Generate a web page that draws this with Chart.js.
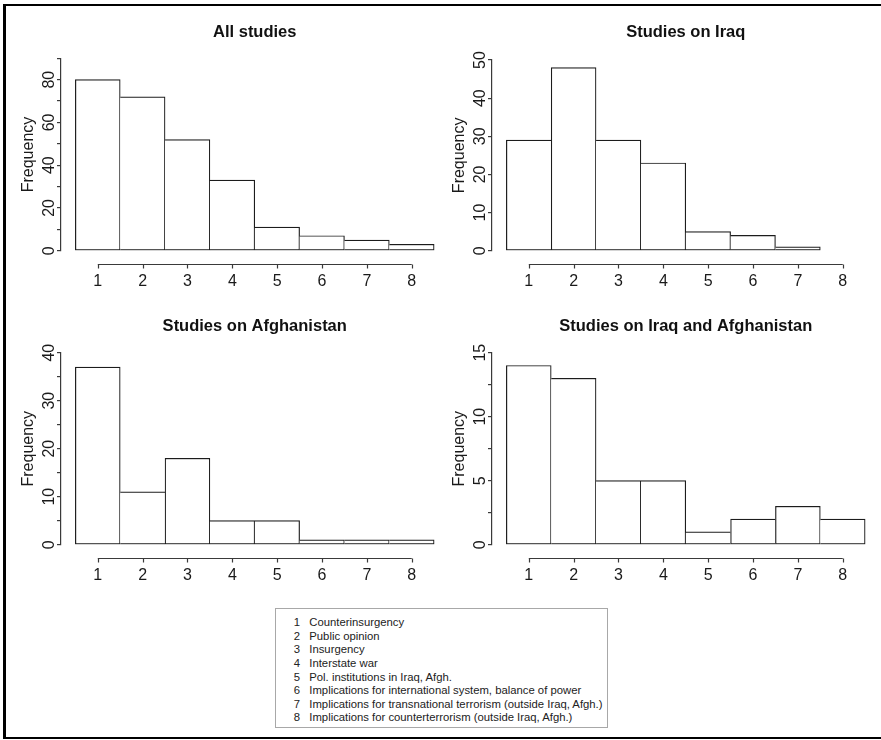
<!DOCTYPE html>
<html>
<head>
<meta charset="utf-8">
<script src="https://cdn.jsdelivr.net/npm/chart.js@4.4.1/dist/chart.umd.min.js"></script>
<style>
  body { margin: 0; background: #fff; width: 881px; height: 740px; overflow: hidden; position: relative; font-family: 'Liberation Sans', Arial, sans-serif; }
  #frame { position: absolute; left: 3px; top: 4px; width: 900px; height: 735px; box-sizing: border-box;
           border-left: 3px solid #000; border-top: 2px solid #000; border-bottom: 2px solid #000; }
  canvas { position: absolute; }
  #legend { position: absolute; left: 275px; top: 608px; width: 333px; height: 120px; box-sizing: border-box;
            border: 1px solid #a8a8a8; padding-top: 6.9px; font-size: 11.3px; line-height: 13.66px; color: #222; }
  #legend .n { display: inline-block; width: 24px; text-align: right; margin-right: 9.3px; }
</style>
</head>
<body>
<div id="frame"></div>
<canvas id="c1" width="450" height="300" style="left:0;top:0"></canvas>
<canvas id="c2" width="450" height="300" style="left:431px;top:0"></canvas>
<canvas id="c3" width="450" height="300" style="left:0;top:294px"></canvas>
<canvas id="c4" width="450" height="300" style="left:431px;top:294px"></canvas>
<div id="legend"></div>
<script>
// categorias (tópicos 1..8) e frequências
const categories = [1, 2, 3, 4, 5, 6, 7, 8]
const allStudies = [80, 72, 52, 33, 11, 7, 5, 3]
const iraq = [29, 48, 29, 23, 5, 4, 1, 0]
const afghanistan = [37, 11, 18, 5, 5, 1, 1, 1]
const iraqAfghanistan = [14, 13, 5, 5, 1, 2, 3, 2]

// marcas e rótulos do eixo y de cada painel
const yTicksAll = [0, 10, 20, 30, 40, 50, 60, 70, 80, 90]
const yLabelsAll = [0, 20, 40, 60, 80]
const yTicksIraq = [0, 10, 20, 30, 40, 50]
const yLabelsIraq = [0, 10, 20, 30, 40, 50]
const yTicksAfg = [0, 5, 10, 15, 20, 25, 30, 35, 40]
const yLabelsAfg = [0, 10, 20, 30, 40]
const yTicksBoth = [0, 2.5, 5, 7.5, 10, 12.5, 15]
const yLabelsBoth = [0, 5, 10, 15]

const legendItems = [
    'Counterinsurgency',
    'Public opinion',
    'Insurgency',
    'Interstate war',
    'Pol. institutions in Iraq, Afgh.',
    'Implications for international system, balance of power',
    'Implications for transnational terrorism (outside Iraq, Afgh.)',
    'Implications for counterterrorism (outside Iraq, Afgh.)'
]

const FONT = "'Liberation Sans', Arial, sans-serif"
const AXIS = '#3a3a3a'

document.getElementById('legend').innerHTML = legendItems
    .map((t, i) => `<div><span class="n">${categories[i]}</span>${t}</div>`).join('')

// eixo x no estilo R: linha só de 1 a 8, deslocada abaixo das barras
const rAxis = {
    id: 'rAxis',
    afterDraw(chart) {
        const x = chart.scales.x
        const ctx = chart.ctx
        const y0 = Math.round(chart.chartArea.bottom + 13.3) + 0.5
        ctx.save()
        ctx.strokeStyle = AXIS
        ctx.lineWidth = 1.2
        ctx.beginPath()
        ctx.moveTo(x.getPixelForValue(categories[0]), y0)
        ctx.lineTo(x.getPixelForValue(categories[categories.length - 1]), y0)
        categories.forEach(c => {
            const px = Math.round(x.getPixelForValue(c)) + 0.5
            ctx.moveTo(px, y0)
            ctx.lineTo(px, y0 + 4)
        })
        ctx.stroke()
        ctx.restore()
    }
}

function makePanel(id, title, values, yTicks, yLabels, areaTop) {
    const last = values.length - 1
    new Chart(document.getElementById(id), {
        type: 'bar',
        data: {
            datasets: [{
                data: categories.map((c, i) => ({ x: c, y: values[i] })),
                backgroundColor: '#fff',
                borderColor: '#1c1c1c',
                borderSkipped: false,
                // lados compartilhados: só a barra mais alta desenha a borda
                borderWidth: ctx => {
                    const i = ctx.dataIndex
                    return {
                        top: 1.2, bottom: 1.2,
                        left: (i === 0 || values[i - 1] < values[i]) ? 1.2 : 0,
                        right: (i === last || values[i + 1] <= values[i]) ? 1.2 : 0
                    }
                },
                barPercentage: 1,
                categoryPercentage: 1
            }]
        },
        options: {
            responsive: false,
            animation: false,
            layout: { padding: { left: 0, right: 1.5, top: 0, bottom: 0 } },
            plugins: {
                legend: { display: false },
                tooltip: { enabled: false },
                title: {
                    display: true,
                    fullSize: false,
                    text: title,
                    color: '#111',
                    font: { family: FONT, size: 16.5, weight: 'bold', lineHeight: 1.2 },
                    padding: { top: 22.4, bottom: areaTop - 42.2 }
                }
            },
            scales: {
                x: {
                    type: 'linear',
                    min: 0.18,
                    max: 8.82,
                    offset: false,
                    afterBuildTicks: s => { s.ticks = categories.map(v => ({ value: v })) },
                    grid: { display: false, drawTicks: false },
                    border: { display: false },
                    ticks: { color: '#1a1a1a', font: { family: FONT, size: 16 }, padding: 21.5, autoSkip: false, maxRotation: 0 },
                    afterFit: s => { s.height = 49.3 }
                },
                y: {
                    min: 0,
                    max: yTicks[yTicks.length - 1],
                    afterBuildTicks: s => { s.ticks = yTicks.map(v => ({ value: v })) },
                    grid: { drawOnChartArea: false, drawTicks: true, tickLength: 4, color: AXIS, lineWidth: 1.2 },
                    border: { display: true, color: AXIS, width: 1.2 },
                    ticks: {
                        callback: v => yLabels.includes(v) ? String(v) : '',
                        minRotation: 90,
                        maxRotation: 90,
                        crossAlign: 'center',
                        padding: -1.4,
                        autoSkip: false,
                        color: '#1a1a1a',
                        font: { family: FONT, size: 16 }
                    },
                    title: {
                        display: true,
                        text: 'Frequency',
                        color: '#1a1a1a',
                        font: { family: FONT, size: 16, lineHeight: 1.2 },
                        padding: { top: 18.9, bottom: 0 }
                    },
                    afterFit: s => { s.width = 61 }
                }
            }
        },
        plugins: [rAxis]
    })
}

makePanel('c1', 'All studies', allStudies, yTicksAll, yLabelsAll, 58.3)
makePanel('c2', 'Studies on Iraq', iraq, yTicksIraq, yLabelsIraq, 60)
makePanel('c3', 'Studies on Afghanistan', afghanistan, yTicksAfg, yLabelsAfg, 58.7)
makePanel('c4', 'Studies on Iraq and Afghanistan', iraqAfghanistan, yTicksBoth, yLabelsBoth, 58.7)
</script>
</body>
</html>
